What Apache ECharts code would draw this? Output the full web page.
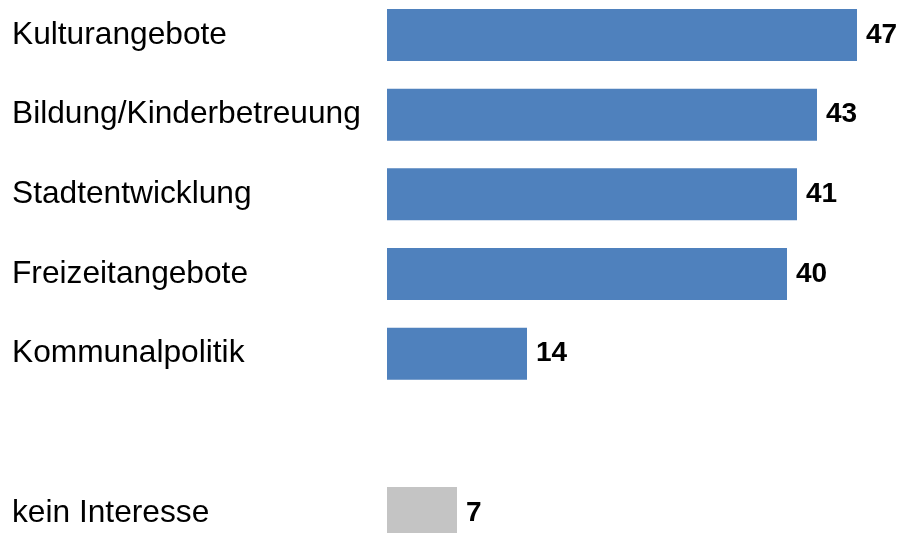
<!DOCTYPE html>
<html>
<head>
<meta charset="utf-8">
<script src="https://cdn.jsdelivr.net/npm/echarts@6/dist/echarts.min.js"></script>
<style>
  html, body { margin: 0; padding: 0; background: #fff; }
  #chart { width: 899px; height: 533px; }
</style>
</head>
<body>
<div id="chart"></div>
<script>
// Kategorien (leerer Eintrag = Abstand vor "kein Interesse")
const categories = ["Kulturangebote", "Bildung/Kinderbetreuung", "Stadtentwicklung", "Freizeitangebote", "Kommunalpolitik", "", "kein Interesse"];
const values = [47, 43, 41, 40, 14, null, 7];

const blue = "#4f81bd";
const grey = "#c4c4c4";
const font = "Liberation Sans";

const chart = echarts.init(document.getElementById("chart"));

chart.setOption({
  animation: false,
  grid: { left: 387, right: 0, top: 35, bottom: 20 },
  xAxis: {
    type: "value",
    min: 0,
    max: 51.2,
    show: false,
  },
  yAxis: {
    type: "category",
    data: categories,
    inverse: true,
    boundaryGap: false,
    axisLine: { show: false },
    axisTick: { show: false },
    axisLabel: {
      align: "left",
      margin: 375,
      fontFamily: font,
      fontSize: 31.7,
      color: "#000",
    },
  },
  series: [
    {
      type: "bar",
      data: values,
      barWidth: 52,
      itemStyle: {
        color: (p) => (categories[p.dataIndex] === "kein Interesse" ? grey : blue),
      },
      label: {
        show: true,
        position: "right",
        distance: 9,
        fontFamily: font,
        fontWeight: "bold",
        fontSize: 28,
        color: "#000",
      },
    },
  ],
});
</script>
</body>
</html>
